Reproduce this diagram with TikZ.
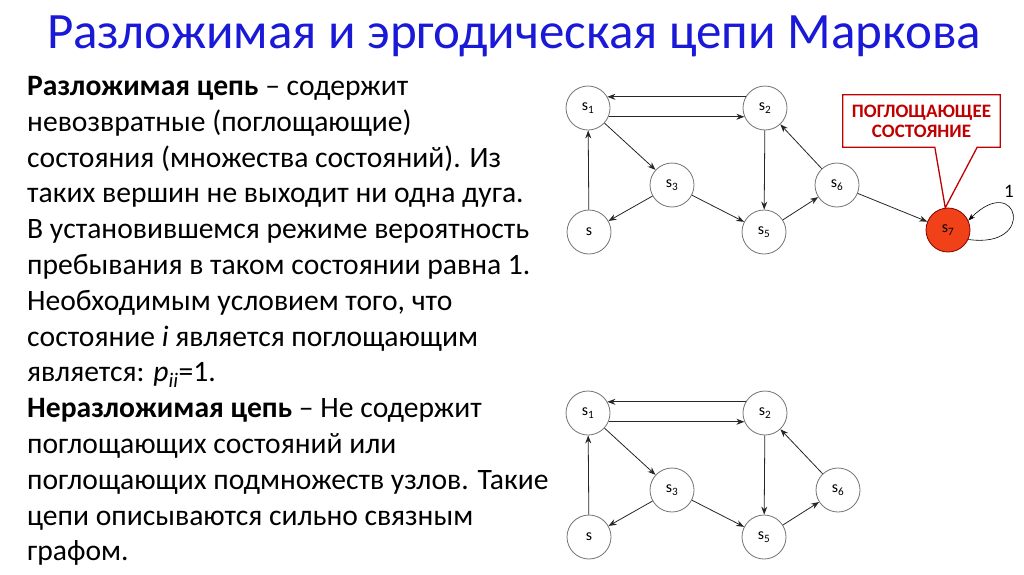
\documentclass[tikz,border=0pt]{standalone}
\usepackage{fontspec}
\setmainfont{Carlito}
\usetikzlibrary{arrows.meta,positioning}
\definecolor{titleblue}{RGB}{25,25,215}
\definecolor{callred}{RGB}{192,0,0}
\definecolor{absorbfill}{RGB}{240,65,25}

\begin{document}
\begin{tikzpicture}[x=1pt, y=-1pt,
    state/.style={circle, draw=black!55, line width=0.8pt, fill=white, minimum size=44pt, inner sep=0pt, font=\fontsize{16}{16}\selectfont},
    absorbing/.style={state, fill=absorbfill, draw=red!50!black},
    edge/.style={-{Stealth[length=8pt,width=6pt]}, black!85, line width=0.8pt}
]
    \useasboundingbox (0,0) rectangle (1024,574);

    % Title
    \node[text=titleblue, font=\fontsize{51}{51}\selectfont, anchor=base] (title) at (514,48) {Разложимая и эргодическая цепи Маркова};

    % Description text
    \node[anchor=north west, inner sep=0pt, align=left, font=\fontsize{29.6}{35.8}\selectfont] (desc) at (27,76) {%
        \textbf{Разложимая цепь} – содержит\\
        невозвратные (поглощающие)\\
        состояния (множества состояний). Из\\
        таких вершин не выходит ни одна дуга.\\
        В установившемся режиме вероятность\\
        пребывания в таком состоянии равна 1.\\
        Необходимым условием того, что\\
        состояние \textit{i} является поглощающим\\
        является: \textit{p}\textsubscript{\textit{ii}}=1.\\
        \textbf{Неразложимая цепь} – Не содержит\\
        поглощающих состояний или\\
        поглощающих подмножеств узлов. Такие\\
        цепи описываются сильно связным\\
        графом.};

    % Decomposable chain
    \node[state] (s1a) at (588,108) {s\textsubscript{1}};
    \node[state] (s2a) at (765,108) {s\textsubscript{2}};
    \node[state] (s3a) at (672,185) {s\textsubscript{3}};
    \node[state] (s0a) at (589,232) {s};
    \node[state] (s5a) at (764,232) {s\textsubscript{5}};
    \node[state] (s6a) at (837,185) {s\textsubscript{6}};
    \node[absorbing] (s7a) at (948,230) {s\textsubscript{7}};

    \draw[edge] (s2a.150) -- (s1a.30);
    \draw[edge] (s1a.-23) -- (s2a.203);
    \draw[edge] (s1a) -- (s3a);
    \draw[edge] (s0a) -- (s1a);
    \draw[edge] (s3a) -- (s0a);
    \draw[edge] (s3a) -- (s5a);
    \draw[edge] (s2a) -- (s5a);
    \draw[edge] (s5a) -- (s6a);
    \draw[edge] (s6a) -- (s2a);
    \draw[edge] (s6a) -- (s7a);

    % Self loop
    \draw[-{Stealth[length=7pt,width=5pt]}, line width=0.6pt] (s7a.-25) to[out=-8, in=45, distance=70pt] (s7a.25);
    \node[font=\fontsize{19}{19}\selectfont] (pone) at (1009,191) {1};

    % Callout
    \node[text=callred, font=\bfseries\fontsize{19}{20}\selectfont, align=center, minimum width=157pt, minimum height=52pt] (absorb) at (921.5,121) {ПОГЛОЩАЮЩЕЕ\\СОСТОЯНИЕ};
    \draw[callred, line width=1.3pt] (absorb.north west) -- (absorb.north east) -- (absorb.south east)
        -- ([xshift=-23pt]absorb.south east) -- (s7a.97) -- ([xshift=92pt]absorb.south west)
        -- (absorb.south west) -- cycle;

    % Ergodic chain
    \node[state] (s1b) at (588,413) {s\textsubscript{1}};
    \node[state] (s2b) at (765,413) {s\textsubscript{2}};
    \node[state] (s3b) at (672,490) {s\textsubscript{3}};
    \node[state] (s0b) at (589,537) {s};
    \node[state] (s5b) at (764,537) {s\textsubscript{5}};
    \node[state] (s6b) at (838,490) {s\textsubscript{6}};

    \draw[edge] (s2b.150) -- (s1b.30);
    \draw[edge] (s1b.-23) -- (s2b.203);
    \draw[edge] (s1b) -- (s3b);
    \draw[edge] (s0b) -- (s1b);
    \draw[edge] (s3b) -- (s0b);
    \draw[edge] (s3b) -- (s5b);
    \draw[edge] (s2b) -- (s5b);
    \draw[edge] (s5b) -- (s6b);
    \draw[edge] (s6b) -- (s2b);
\end{tikzpicture}
\end{document}
